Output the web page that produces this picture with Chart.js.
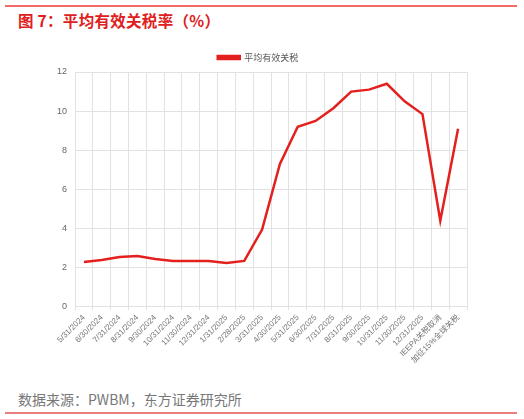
<!DOCTYPE html>
<html>
<head>
<meta charset="utf-8">
<script src="https://cdn.jsdelivr.net/npm/chart.js@4.4.1/dist/chart.umd.min.js"></script>
<style>
  body { margin: 0; background: #fff; font-family: "Liberation Sans", "Noto Sans CJK SC", sans-serif; }
  #page { position: relative; width: 524px; height: 419px; overflow: hidden; }
  #topline { position: absolute; left: 5px; top: 5px; width: 512px; height: 1.5px; background: #f06a6a; }
  #title { position: absolute; left: 18px; top: 9px; font-size: 15.5px; font-weight: bold; color: #e02020;
           font-family: "Noto Sans CJK SC", sans-serif; letter-spacing: 0.3px; }
  #wrap { position: absolute; left: 0px; top: 35px; width: 524px; height: 333px; }
  #source { position: absolute; left: 18px; top: 389px; font-size: 14px; color: #777;
            font-family: "Noto Sans CJK SC", sans-serif; }
  #bottomline { position: absolute; left: 5px; top: 412px; width: 512px; height: 1.5px; background: #e88080; }
</style>
</head>
<body>
<div id="page">
  <div id="topline"></div>
  <div id="title">图 7：平均有效关税率（%）</div>
  <div id="wrap"><canvas id="c"></canvas></div>
  <div id="source">数据来源：PWBM，东方证券研究所</div>
  <div id="bottomline"></div>
</div>
<script>
const categories = [
  '5/31/2024', '6/30/2024', '7/31/2024', '8/31/2024', '9/30/2024', '10/31/2024',
  '11/30/2024', '12/31/2024', '1/31/2025', '2/28/2025', '3/31/2025', '4/30/2025',
  '5/31/2025', '6/30/2025', '7/31/2025', '8/31/2025', '9/30/2025', '10/31/2025',
  '11/30/2025', '12/31/2025', 'IEEPA关税取消', '加征15%全球关税'
];
const seriesName = '平均有效关税';
const tariffRate = [
  2.3, 2.4, 2.55, 2.6, 2.45, 2.35, 2.35, 2.35, 2.25, 2.35, 3.95, 7.3,
  9.2, 9.5, 10.15, 11.0, 11.1, 11.4, 10.5, 9.85, 4.4, 9.1
];
const yTicks = [0, 2, 4, 6, 8, 10, 12];

const ctx = document.getElementById('c').getContext('2d');
new Chart(ctx, {
  type: 'line',
  data: {
    labels: categories,
    datasets: [{
      label: seriesName,
      data: tariffRate,
      borderColor: '#e3201e',
      backgroundColor: '#e3201e',
      borderWidth: 2.5,
      pointRadius: 0,
      tension: 0
    }]
  },
  options: {
    responsive: true,
    maintainAspectRatio: false,
    animation: false,
    layout: { padding: { left: 49, right: 57, top: 0, bottom: 0 } },
    plugins: {
      legend: {
        position: 'top',
        labels: {
          boxWidth: 22,
          boxHeight: 3,
          color: '#555',
          font: { size: 9, family: '"Noto Sans CJK SC", sans-serif' },
          padding: 18
        }
      },
      tooltip: { enabled: false }
    },
    scales: {
      x: {
        offset: true,
        grid: { offset: true, color: '#e2e2e2', drawTicks: true, tickLength: 3 },
        border: { color: '#e2e2e2' },
        ticks: {
          autoSkip: false,
          maxRotation: 45,
          minRotation: 45,
          color: '#777',
          font: { size: 8, family: '"Liberation Sans", "Noto Sans CJK SC", sans-serif' }
        }
      },
      y: {
        min: 0,
        max: 12,
        afterBuildTicks: axis => { axis.ticks = yTicks.map(v => ({ value: v })); },
        grid: { color: '#e2e2e2', drawTicks: false },
        border: { color: '#e2e2e2' },
        ticks: {
          padding: 8,
          color: '#666',
          font: { size: 9, family: '"Liberation Sans", sans-serif' }
        }
      }
    }
  }
});
</script>
</body>
</html>
